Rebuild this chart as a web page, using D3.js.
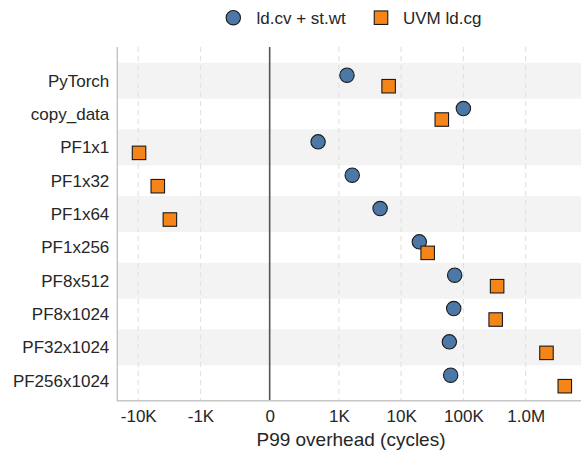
<!DOCTYPE html>
<html>
<head>
<meta charset="utf-8">
<script src="https://cdn.jsdelivr.net/npm/d3@7"></script>
<style>
  body { margin: 0; background: #fff; }
  svg { display: block; font-family: "Liberation Sans", Arial, sans-serif; }
</style>
</head>
<body>
<svg id="chart" width="581" height="452"></svg>
<script>
const categories = ["PyTorch", "copy_data", "PF1x1", "PF1x32", "PF1x64", "PF1x256", "PF8x512", "PF8x1024", "PF32x1024", "PF256x1024"];
const seriesNames = ["ld.cv + st.wt", "UVM ld.cg"];
const cvwtValues = [1350, 100000, 700, 1640, 4600, 19600, 72500, 70000, 59500, 62500];
const uvmValues = [6300, 45000, -9700, -4850, -3100, 26700, 348000, 330000, 2160000, 4250000];
const tickValues = [-10000, -1000, 0, 1000, 10000, 100000, 1000000];
const tickLabels = ["-10K", "-1K", "0", "1K", "10K", "100K", "1.0M"];
const colors = ["#4c78a8", "#f58518"];

(function () {
// matplotlib-style symlog transform (linthresh = 1000, linscale = 1)
const linthresh = 1000, linscale = 1 / (1 - 1 / 10);
function T(v) {
  const a = Math.abs(v);
  if (a <= linthresh) return v / linthresh * linscale;
  return Math.sign(v) * (linscale + Math.log10(a / linthresh));
}

const svg = d3.select("#chart");
const pLeft = 117.3, pRight = 581, pTop = 47, pBottom = 400.7;
const fontFam = "Liberation Sans, Arial, sans-serif";

const x = d3.scaleLinear().domain([-2.447, 5.0]).range([pLeft, pRight]);
const y = d3.scalePoint().domain(categories).range([80.7, 380.7]);
const step = y.step();
const bandH = step * 1.08;

// alternating bands
svg.append("g").selectAll("rect")
  .data(categories.filter((d, i) => i % 2 === 0))
  .join("rect")
  .attr("x", pLeft).attr("width", pRight - pLeft)
  .attr("y", d => y(d) - bandH / 2).attr("height", bandH)
  .attr("fill", "#f3f3f3");

// gridlines
svg.append("g").selectAll("line")
  .data(tickValues.filter(v => v !== 0))
  .join("line")
  .attr("x1", v => x(T(v))).attr("x2", v => x(T(v)))
  .attr("y1", pTop).attr("y2", pBottom)
  .attr("stroke", "#e2e2e2").attr("stroke-width", 1.2)
  .attr("stroke-dasharray", "5,4");

// zero line
svg.append("line")
  .attr("x1", x(T(0))).attr("x2", x(T(0)))
  .attr("y1", pTop).attr("y2", pBottom)
  .attr("stroke", "#555").attr("stroke-width", 1.6);

// spines
svg.append("line").attr("x1", pLeft).attr("x2", pLeft).attr("y1", pTop).attr("y2", pBottom + 0.75)
  .attr("stroke", "#c6c6c6").attr("stroke-width", 1.5);
svg.append("line").attr("x1", pLeft).attr("x2", pRight).attr("y1", pBottom).attr("y2", pBottom)
  .attr("stroke", "#c6c6c6").attr("stroke-width", 1.5);

// x axis
const xAxis = d3.axisBottom(x)
  .tickValues(tickValues.map(T))
  .tickFormat((d, i) => tickLabels[i])
  .tickSize(0).tickPadding(9);
const gx = svg.append("g").attr("transform", `translate(0,${pBottom})`).call(xAxis);
gx.select(".domain").remove();
gx.selectAll("text").attr("font-size", "17px").attr("fill", "#262626")
  .attr("font-family", fontFam);

// y axis
const yAxis = d3.axisLeft(y).tickSize(0).tickPadding(8);
const gy = svg.append("g").attr("transform", `translate(${pLeft},0)`).call(yAxis);
gy.select(".domain").remove();
gy.selectAll("text").attr("font-size", "17px").attr("fill", "#262626")
  .attr("font-family", fontFam);

// axis title
svg.append("text")
  .attr("x", 351).attr("y", 446)
  .attr("text-anchor", "middle")
  .attr("font-size", "19px").attr("fill", "#262626")
  .attr("font-family", fontFam)
  .text("P99 overhead (cycles)");

// points
const off = 5.5;
svg.append("g").selectAll("circle")
  .data(categories.map((c, i) => ({ c, v: cvwtValues[i] })))
  .join("circle")
  .attr("cx", d => x(T(d.v))).attr("cy", d => y(d.c) - off)
  .attr("r", 7.2)
  .attr("fill", colors[0]).attr("stroke", "#1a1a1a").attr("stroke-width", 1.1);

const sq = 13.5;
svg.append("g").selectAll("rect")
  .data(categories.map((c, i) => ({ c, v: uvmValues[i] })))
  .join("rect")
  .attr("x", d => x(T(d.v)) - sq / 2).attr("y", d => y(d.c) + off - sq / 2)
  .attr("width", sq).attr("height", sq)
  .attr("fill", colors[1]).attr("stroke", "#1a1a1a").attr("stroke-width", 1.1);

// legend
const lg = svg.append("g");
lg.append("circle").attr("cx", 233.3).attr("cy", 17.7).attr("r", 7.2)
  .attr("fill", colors[0]).attr("stroke", "#1a1a1a").attr("stroke-width", 1.1);
lg.append("text").attr("x", 256.5).attr("y", 17.7).attr("dy", "0.35em")
  .attr("font-size", "17px").attr("fill", "#262626").attr("font-family", fontFam).text(seriesNames[0]);
lg.append("rect").attr("x", 381 - sq / 2).attr("y", 17.7 - sq / 2).attr("width", sq).attr("height", sq)
  .attr("fill", colors[1]).attr("stroke", "#1a1a1a").attr("stroke-width", 1.1);
lg.append("text").attr("x", 403).attr("y", 17.7).attr("dy", "0.35em")
  .attr("font-size", "17px").attr("fill", "#262626").attr("font-family", fontFam).text(seriesNames[1]);
})();
</script>
</body>
</html>
